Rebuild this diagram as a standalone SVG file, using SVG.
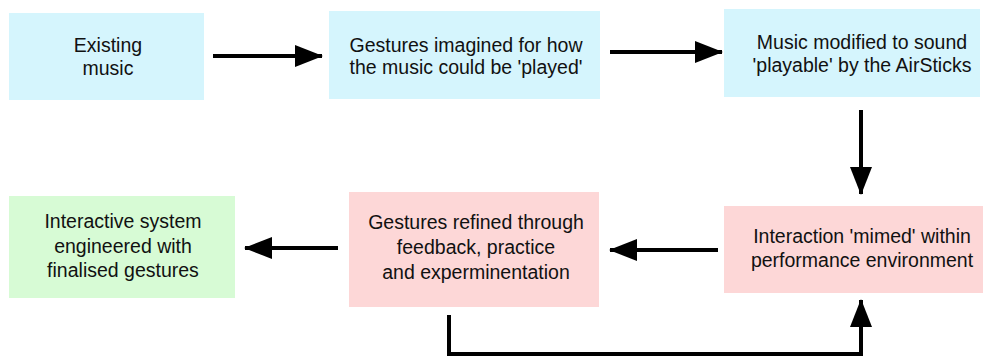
<svg xmlns="http://www.w3.org/2000/svg" width="984" height="358" viewBox="0 0 984 358">
<style>
.t{font-family:"Liberation Sans",Arial,sans-serif;font-size:19.5px;fill:#111;text-anchor:middle}
.blue{fill:#d5f5fd}
.pink{fill:#fdd7d7}
.green{fill:#d7fbd5}
.c{fill:none;stroke:#000;stroke-width:4}
</style>
<defs>
<marker id="ah" markerUnits="userSpaceOnUse" markerWidth="28" markerHeight="22" refX="27" refY="11" orient="auto">
<path d="M0,0 L28,11 L0,22 Z" fill="#000"/>
</marker>
</defs>
<g id="n1"><rect class="blue" x="9" y="13" width="195" height="87"/>
<text class="t" x="108" y="52">Existing</text><text class="t" x="108" y="75">music</text></g>
<g id="n2"><rect class="blue" x="329" y="11" width="271" height="88"/>
<text class="t" x="466" y="52">Gestures imagined for how</text><text class="t" x="466" y="74">the music could be 'played'</text></g>
<g id="n3"><rect class="blue" x="724" y="9" width="256" height="88"/>
<text class="t" x="862" y="49">Music modified to sound</text><text class="t" x="862" y="72">'playable' by the AirSticks</text></g>
<g id="n4"><rect class="green" x="9" y="196" width="226" height="102"/>
<text class="t" x="123" y="228">Interactive system</text><text class="t" x="123" y="253">engineered with</text><text class="t" x="123" y="277">finalised gestures</text></g>
<g id="n5"><rect class="pink" x="349" y="192" width="250" height="115"/>
<text class="t" x="476" y="229">Gestures refined through</text><text class="t" x="476" y="254">feedback, practice</text><text class="t" x="476" y="279">and experminentation</text></g>
<g id="n6"><rect class="pink" x="724" y="206" width="259" height="87"/>
<text class="t" x="862" y="243">Interaction 'mimed' within</text><text class="t" x="862" y="267">performance environment</text></g>
<g id="connectors">
<path class="c" d="M213,56 H322" marker-end="url(#ah)"/>
<path class="c" d="M610,52 H722" marker-end="url(#ah)"/>
<path class="c" d="M861,110 V194" marker-end="url(#ah)"/>
<path class="c" d="M718,250 H610" marker-end="url(#ah)"/>
<path class="c" d="M338,248 H245" marker-end="url(#ah)"/>
<path class="c" d="M449,315 V354 H861 V300" marker-end="url(#ah)"/>
</g>
</svg>
